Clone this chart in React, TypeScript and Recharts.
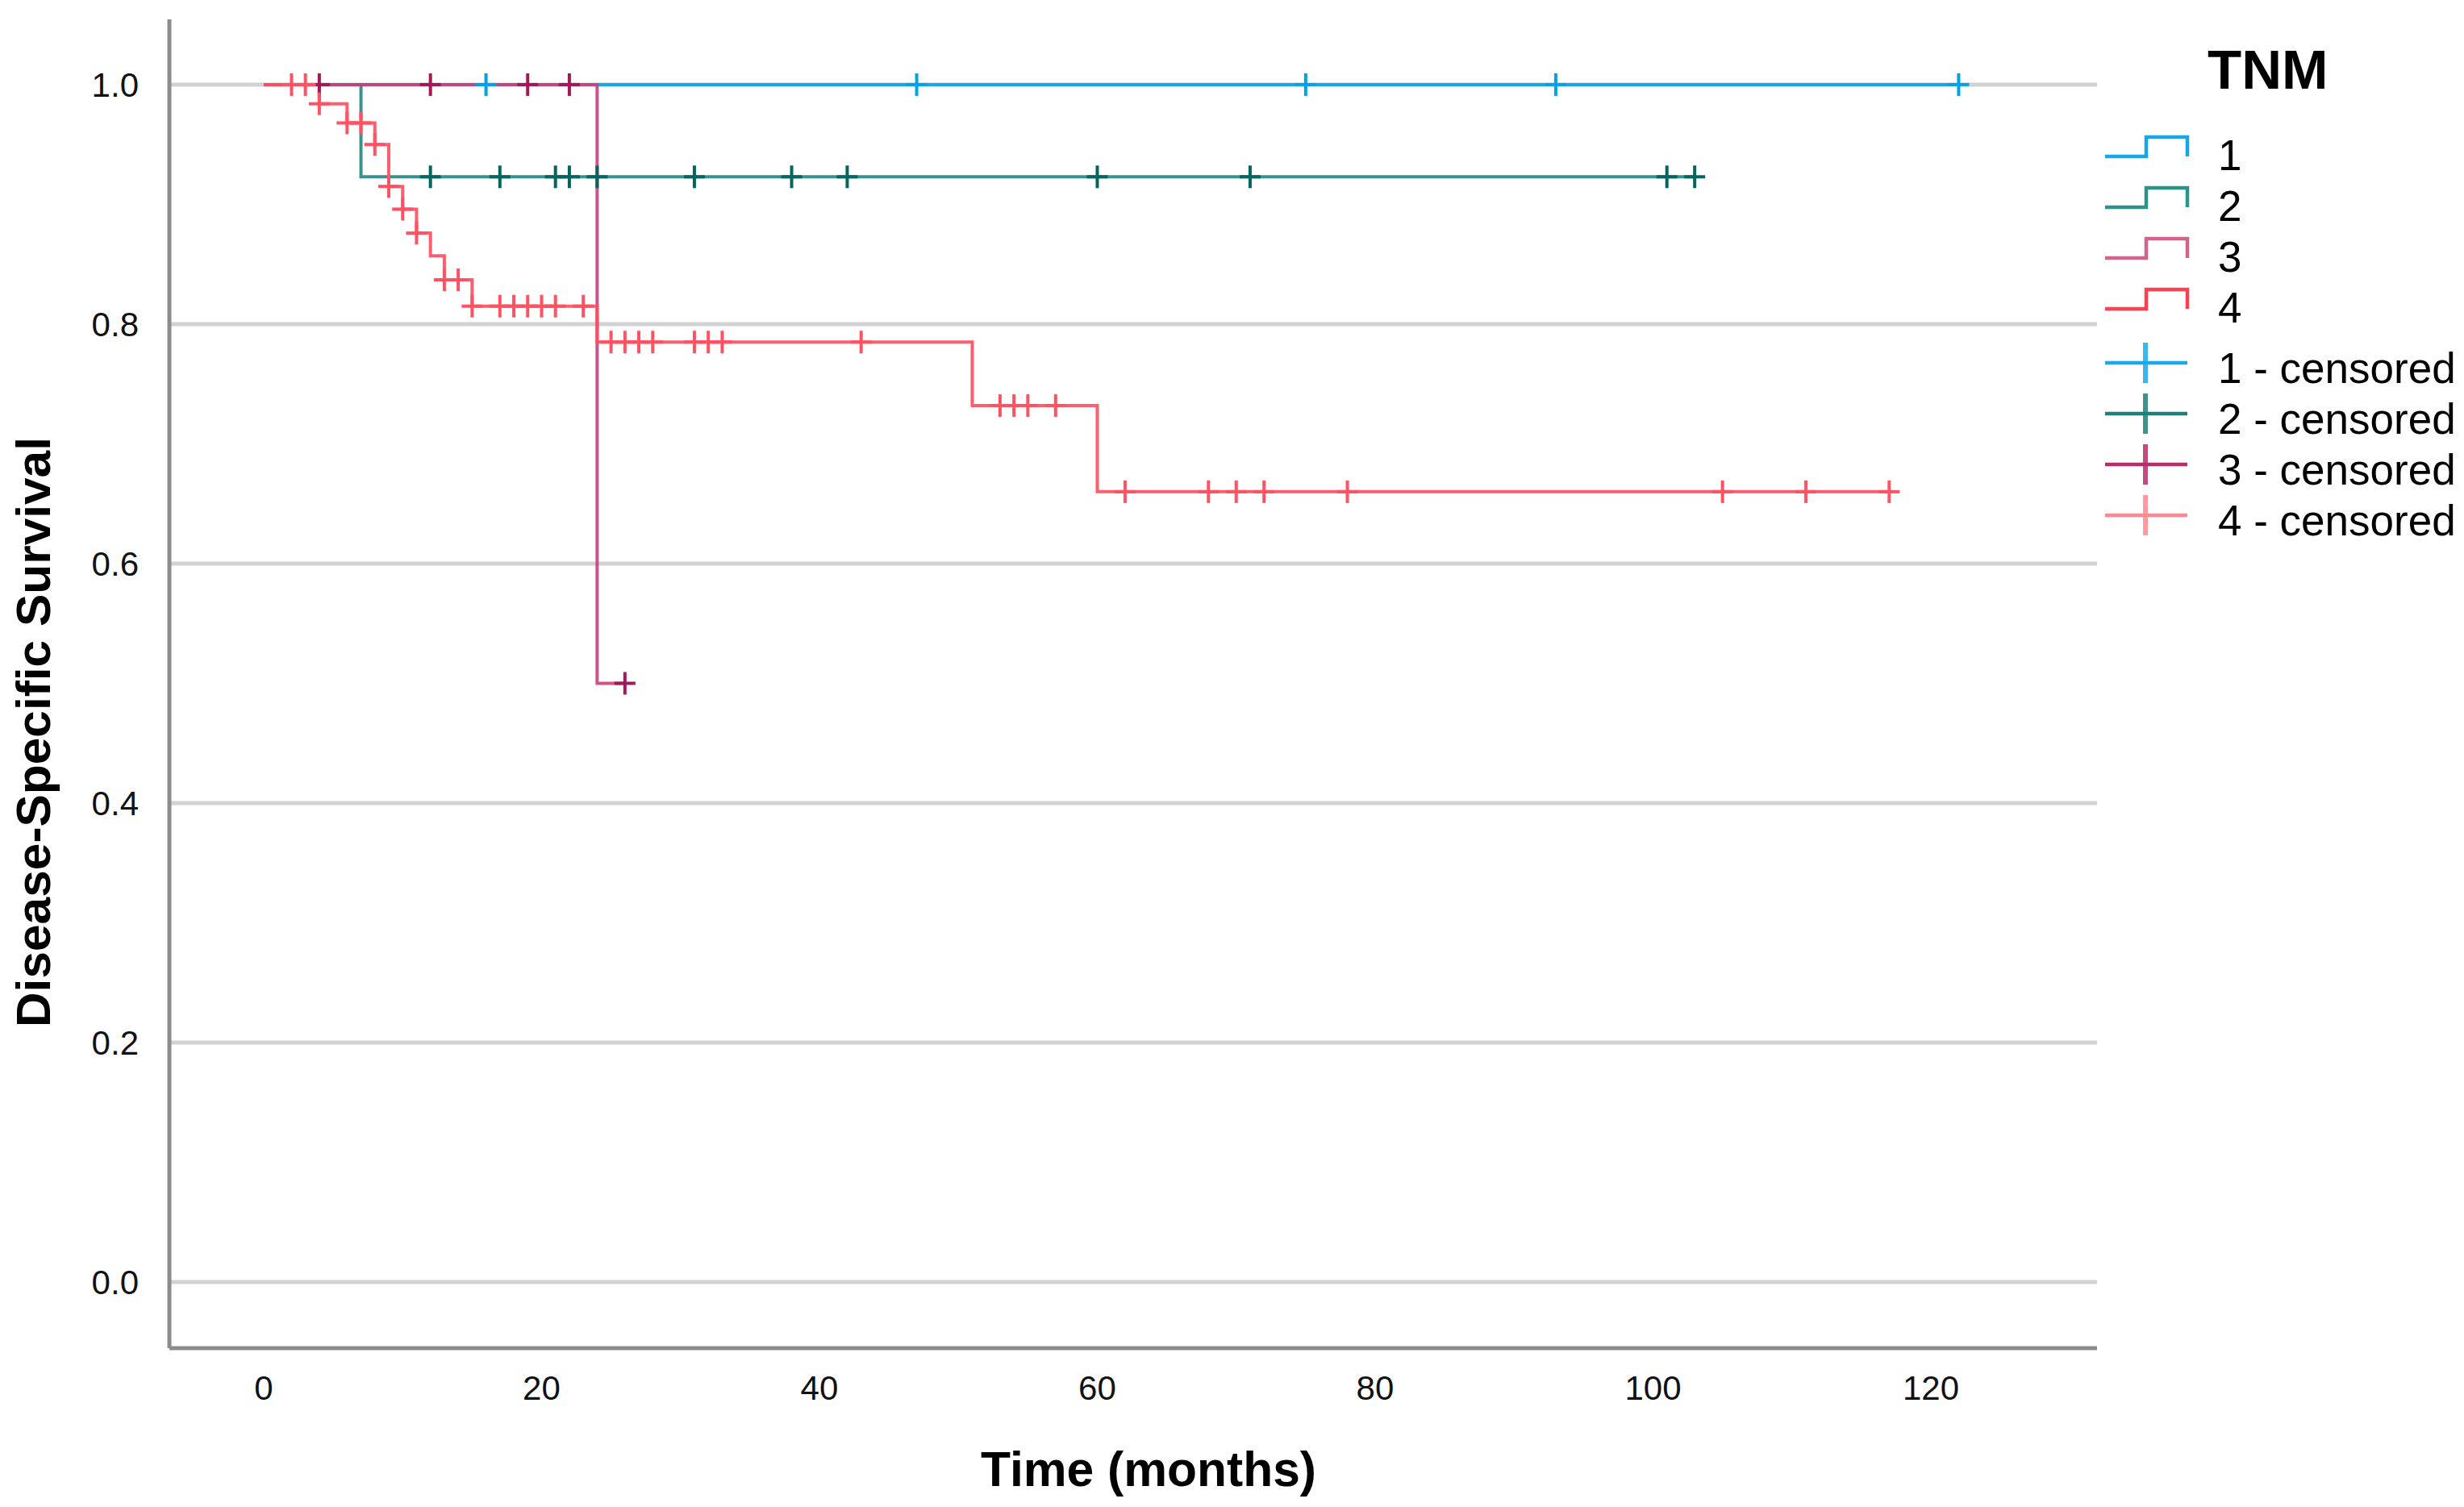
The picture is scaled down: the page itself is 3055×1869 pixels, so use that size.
import React from 'react';
import { ComposedChart, Line, Scatter, XAxis, YAxis, ReferenceLine, Legend, Label } from 'recharts';

// ---------- data ----------
const timeTicks = [0, 20, 40, 60, 80, 100, 120];
const survivalTicks = [0, 0.2, 0.4, 0.6, 0.8, 1.0];
const legendTitle = 'TNM';
const groupLabels = ['1', '2', '3', '4'];
const censoredLabels = ['1 - censored', '2 - censored', '3 - censored', '4 - censored'];

const tnm1Curve = [
  { t: 0, s: 1 },
  { t: 122, s: 1 },
];
const tnm1Censored = [
  { t: 16, s: 1 }, { t: 47, s: 1 }, { t: 75, s: 1 }, { t: 93, s: 1 }, { t: 122, s: 1 },
];

const tnm2Curve = [
  { t: 0, s: 1 },
  { t: 7, s: 0.923 },
  { t: 103, s: 0.923 },
];
const tnm2Censored = [
  { t: 12, s: 0.923 }, { t: 17, s: 0.923 }, { t: 21, s: 0.923 }, { t: 22, s: 0.923 },
  { t: 24, s: 0.923 }, { t: 31, s: 0.923 }, { t: 38, s: 0.923 }, { t: 42, s: 0.923 },
  { t: 60, s: 0.923 }, { t: 71, s: 0.923 }, { t: 101, s: 0.923 }, { t: 103, s: 0.923 },
];

const tnm3Curve = [
  { t: 0, s: 1 },
  { t: 24, s: 0.5 },
  { t: 26, s: 0.5 },
];
const tnm3Censored = [
  { t: 4, s: 1 }, { t: 12, s: 1 }, { t: 19, s: 1 }, { t: 22, s: 1 }, { t: 26, s: 0.5 },
];

const tnm4Curve = [
  { t: 0, s: 1 },
  { t: 4, s: 0.984 },
  { t: 6, s: 0.968 },
  { t: 8, s: 0.95 },
  { t: 9, s: 0.915 },
  { t: 10, s: 0.896 },
  { t: 11, s: 0.876 },
  { t: 12, s: 0.857 },
  { t: 13, s: 0.837 },
  { t: 15, s: 0.815 },
  { t: 24, s: 0.785 },
  { t: 51, s: 0.732 },
  { t: 60, s: 0.66 },
  { t: 117, s: 0.66 },
];
const tnm4Censored = [
  { t: 2, s: 1 }, { t: 3, s: 1 },
  { t: 4, s: 0.984 },
  { t: 6, s: 0.968 }, { t: 7, s: 0.968 },
  { t: 8, s: 0.95 },
  { t: 9, s: 0.915 },
  { t: 10, s: 0.896 },
  { t: 11, s: 0.876 },
  { t: 13, s: 0.837 }, { t: 14, s: 0.837 },
  { t: 15, s: 0.815 }, { t: 17, s: 0.815 }, { t: 18, s: 0.815 }, { t: 19, s: 0.815 },
  { t: 20, s: 0.815 }, { t: 21, s: 0.815 }, { t: 23, s: 0.815 },
  { t: 25, s: 0.785 }, { t: 26, s: 0.785 }, { t: 27, s: 0.785 }, { t: 28, s: 0.785 },
  { t: 31, s: 0.785 }, { t: 32, s: 0.785 }, { t: 33, s: 0.785 }, { t: 43, s: 0.785 },
  { t: 53, s: 0.732 }, { t: 54, s: 0.732 }, { t: 55, s: 0.732 }, { t: 57, s: 0.732 },
  { t: 62, s: 0.66 }, { t: 68, s: 0.66 }, { t: 70, s: 0.66 }, { t: 72, s: 0.66 },
  { t: 78, s: 0.66 }, { t: 105, s: 0.66 }, { t: 111, s: 0.66 }, { t: 117, s: 0.66 },
];

// ---------- styles ----------
const FONT = "'Liberation Sans', Arial, Helvetica, sans-serif";
const lineColors = ['#00a3e8', '#23877f', '#c8407c', '#ff4d5e'];
const censorColors = ['#00a3e8', '#00665e', '#a31858', '#ff5262'];
const legendLineColors = ['#17a6e6', '#2a948b', '#d2638f', '#ff3f52'];
const legendCensorColors = ['#1aa9ea', '#1d8078', '#b62d69', '#ff8890'];

const W = 3055;
const H = 1869;

const makeCross = (color: string) => (props: any) => {
  const { cx, cy } = props;
  if (cx == null || cy == null) return <g />;
  return (
    <g>
      <line x1={cx - 13} y1={cy} x2={cx + 13} y2={cy} stroke={color} strokeWidth={4} />
      <line x1={cx} y1={cy - 14} x2={cx} y2={cy + 14} stroke={color} strokeWidth={4} />
    </g>
  );
};

const renderXTitle = (props: any) => {
  const vb = props.viewBox || {};
  const cx = vb.x + vb.width / 2 + 19;
  return (
    <text
      x={cx}
      y={1843}
      textAnchor="middle"
      fontFamily={FONT}
      fontWeight="bold"
      fontSize={62}
      fill="#000"
      textLength={416}
      lengthAdjust="spacingAndGlyphs"
    >
      Time (months)
    </text>
  );
};

const renderYTitle = () => {
  const x = 62;
  const y = 908;
  return (
    <text
      x={x}
      y={y}
      transform={`rotate(-90 ${x} ${y})`}
      textAnchor="middle"
      fontFamily={FONT}
      fontWeight="bold"
      fontSize={60}
      fill="#000"
      textLength={732}
      lengthAdjust="spacingAndGlyphs"
    >
      Disease-Specific Survival
    </text>
  );
};

const renderLegend = () => {
  const stepBase = [211, 274, 337, 400];
  const censBase = [475, 538, 601, 664];
  return (
    <svg width={455} height={720} style={{ display: 'block', overflow: 'visible' }}>
      <text x={137} y={110} fontFamily={FONT} fontWeight="bold" fontSize={69} fill="#000">
        {legendTitle}
      </text>
      {groupLabels.map((lab, i) => {
        const b = stepBase[i];
        return (
          <g key={'s' + lab}>
            <path
              d={`M10,${b - 17} H61 V${b - 41} H112 V${b - 17}`}
              fill="none"
              stroke={legendLineColors[i]}
              strokeWidth={4.5}
            />
            <text x={150} y={b} fontFamily={FONT} fontSize={53} fill="#000">
              {lab}
            </text>
          </g>
        );
      })}
      {censoredLabels.map((lab, i) => {
        const b = censBase[i];
        return (
          <g key={'c' + lab}>
            <line x1={10} y1={b - 25} x2={112} y2={b - 25} stroke={legendCensorColors[i]} strokeWidth={4.5} />
            <line x1={60} y1={b - 50} x2={60} y2={b} stroke={legendCensorColors[i]} strokeWidth={6} strokeOpacity={0.85} />
            <text x={150} y={b} fontFamily={FONT} fontSize={53} fill="#000">
              {lab}
            </text>
          </g>
        );
      })}
    </svg>
  );
};

const curves = [tnm1Curve, tnm2Curve, tnm3Curve, tnm4Curve];
const censored = [tnm1Censored, tnm2Censored, tnm3Censored, tnm4Censored];

export default function App() {
  return (
    <div style={{ position: 'absolute', left: 0, top: 0, width: W, height: H, background: '#fff' }}>
      <ComposedChart width={W} height={H} margin={{ top: 24, right: 0, bottom: 0, left: 0 }}>
        <XAxis
          type="number"
          dataKey="t"
          domain={[-6.79, 131.96]}
          ticks={timeTicks}
          allowDataOverflow
          height={197}
          axisLine={{ stroke: '#8c8c8c', strokeWidth: 5 }}
          tickLine={false}
          tickSize={0}
          tickMargin={34}
          tick={{ fontFamily: FONT, fontSize: 42, fill: '#111' }}
        >
          <Label content={renderXTitle} />
        </XAxis>
        <YAxis
          type="number"
          dataKey="s"
          domain={[-0.0552, 1.0545]}
          ticks={survivalTicks}
          allowDataOverflow
          width={210}
          axisLine={{ stroke: '#8c8c8c', strokeWidth: 5 }}
          tickLine={false}
          tickSize={0}
          tickMargin={38}
          tickFormatter={(v: number) => v.toFixed(1)}
          tick={{ fontFamily: FONT, fontSize: 42, fill: '#111' }}
        >
          <Label content={renderYTitle} />
        </YAxis>
        {survivalTicks.map((v) => (
          <ReferenceLine key={'g' + v} y={v} stroke="#d2d2d2" strokeWidth={5} />
        ))}
        <Legend
          layout="vertical"
          align="right"
          verticalAlign="top"
          content={renderLegend}
          wrapperStyle={{ width: 455, height: 720, top: 0, right: 0, left: 'auto' }}
        />
        {curves.map((c, i) => (
          <Line
            key={'line' + i}
            data={c}
            dataKey="s"
            type="stepAfter"
            stroke={lineColors[i]}
            strokeWidth={4}
            strokeOpacity={0.9}
            dot={false}
            activeDot={false}
            legendType="none"
            isAnimationActive={false}
          />
        ))}
        {censored.map((c, i) => (
          <Scatter
            key={'cens' + i}
            data={c}
            dataKey="s"
            shape={makeCross(censorColors[i])}
            legendType="none"
            isAnimationActive={false}
          />
        ))}
      </ComposedChart>
    </div>
  );
}
